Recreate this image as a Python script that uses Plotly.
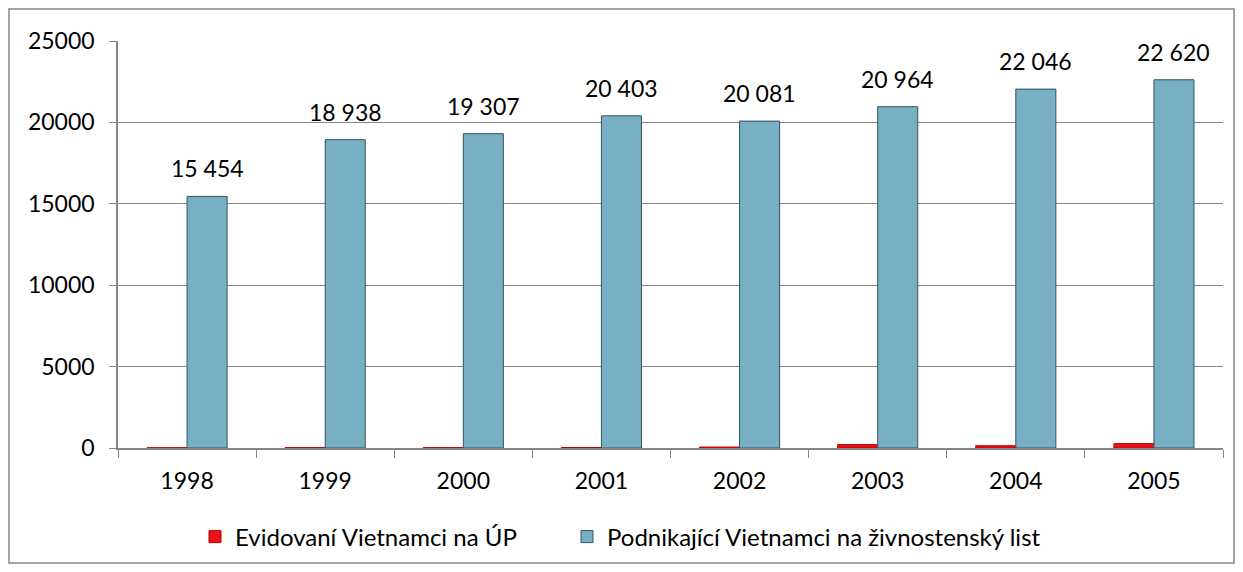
import plotly.graph_objects as go

years = ["1998", "1999", "2000", "2001", "2002", "2003", "2004", "2005"]
evidovani = [20, 25, 25, 30, 60, 210, 140, 270]
podnikajici = [15454, 18938, 19307, 20403, 20081, 20964, 22046, 22620]

name_red = "Evidovaní Vietnamci na ÚP"
name_blue = "Podnikající Vietnamci na živnostenský list"

FONT = "Lato"
grey = "#868686"

fig = go.Figure()
fig.add_trace(go.Bar(
    x=years, y=evidovani, name=name_red, legend="legend",
    marker=dict(color="#e8121a", line=dict(color="#c00000", width=1)),
))
fig.add_trace(go.Bar(
    x=years, y=podnikajici, name=name_blue, legend="legend2",
    marker=dict(color="#78afc2", line=dict(color="#2f5563", width=1)),
))

# value labels above the blue bars (category index positions)
for i, v in enumerate(podnikajici):
    fig.add_annotation(x=i, y=v, xref="x", yref="y", xshift=20,
                       text=f"{v:,}".replace(",", " "), showarrow=False,
                       yanchor="bottom", yshift=12,
                       font=dict(family=FONT, size=23, color="#000000"))

W, H = 1235, 564
ml, mr, mt, mb = 110, 20, 33, 124
pw, ph = W - ml - mr, H - mt - mb
bx0, bx1, by0, by1 = 1, 1226, 1, 555

fig.update_layout(
    width=W, height=H,
    margin=dict(l=ml, r=mr, t=mt, b=mb, pad=0),
    paper_bgcolor="white", plot_bgcolor="white",
    barmode="group", bargap=0.42, bargroupgap=0,
    font=dict(family=FONT, size=23, color="#000000"),
    showlegend=True,
    legend=dict(orientation="h", x=(187 - ml) / pw, xanchor="left",
                y=(H - mb - 529) / ph, yanchor="middle",
                font=dict(family=FONT, size=24), itemwidth=30, bgcolor="rgba(0,0,0,0)"),
    legend2=dict(orientation="h", x=(559 - ml) / pw, xanchor="left",
                 y=(H - mb - 529) / ph, yanchor="middle",
                 font=dict(family=FONT, size=24), itemwidth=30, bgcolor="rgba(0,0,0,0)"),
    xaxis=dict(type="category", range=[-0.5, len(years) - 0.5], autorange=False,
               showline=True, linecolor=grey, linewidth=1.5,
               ticks="outside", tickson="boundaries", ticklen=8, tickcolor=grey,
               ticklabelstandoff=12,
               tickfont=dict(family=FONT, size=23), showgrid=False),
    yaxis=dict(range=[0, 25000], dtick=5000, showline=True, linecolor=grey, linewidth=1.5,
               ticks="outside", ticklen=7, tickcolor=grey, showgrid=True, gridcolor=grey,
               gridwidth=1, zeroline=False, tickformat="d", ticklabelstandoff=10,
               tickfont=dict(family=FONT, size=23)),
    shapes=[dict(type="rect", xref="paper", yref="paper",
                 x0=(bx0 - ml) / pw, x1=(bx1 - ml) / pw,
                 y0=(H - mb - by1) / ph, y1=(H - mb - by0) / ph,
                 line=dict(color=grey, width=1.5), fillcolor="rgba(0,0,0,0)", layer="below")],
)

fig.write_html("out.html")
